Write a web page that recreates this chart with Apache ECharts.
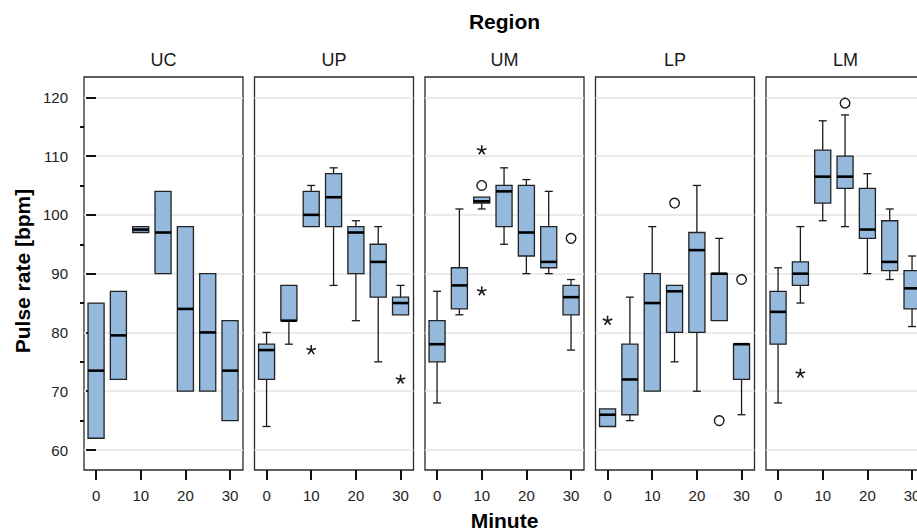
<!DOCTYPE html>
<html><head><meta charset="utf-8">
<script src="https://cdn.jsdelivr.net/npm/echarts@6/dist/echarts.min.js"></script>
<style>html,body{margin:0;padding:0;background:#fff}#c{width:917px;height:531px}</style>
</head><body><div id="c"></div>
<script>
// ---------- data ----------
const regions = ['UC', 'UP', 'UM', 'LP', 'LM'];
const minutes = [0, 5, 10, 15, 20, 25, 30];
const xTicks = [0, 10, 20, 30];
const yTicks = [60, 70, 80, 90, 100, 110, 120];
const yMinorTicks = [65, 75, 85, 95, 105, 115];

// per minute: [low whisker, Q1, median, Q3, high whisker]
const boxUC = [[62, 62, 73.5, 85, 85], [72, 72, 79.5, 87, 87], [97, 97, 97.5, 98, 98], [90, 90, 97, 104, 104], [70, 70, 84, 98, 98], [70, 70, 80, 90, 90], [65, 65, 73.5, 82, 82]];
const boxUP = [[64, 72, 77, 78, 80], [78, 82, 82, 88, 88], [98, 98, 100, 104, 105], [88, 98, 103, 107, 108], [82, 90, 97, 98, 99], [75, 86, 92, 95, 98], [83, 83, 85, 86, 88]];
const boxUM = [[68, 75, 78, 82, 87], [83, 84, 88, 91, 101], [101, 102, 102.3, 103, 103], [95, 98, 104, 105, 108], [90, 93, 97, 105, 106], [90, 91, 92, 98, 104], [77, 83, 86, 88, 89]];
const boxLP = [[64, 64, 66, 67, 67], [65, 66, 72, 78, 86], [70, 70, 85, 90, 98], [75, 80, 87, 88, 88], [70, 80, 94, 97, 105], [82, 82, 90, 90, 96], [66, 72, 78, 78, 78]];
const boxLM = [[68, 78, 83.5, 87, 91], [85, 88, 90, 92, 98], [99, 102, 106.5, 111, 116], [98, 104.5, 106.5, 110, 117], [90, 96, 97.5, 104.5, 107], [89, 90.5, 92, 99, 101], [81, 84, 87.5, 90.5, 93]];

// outliers: [minute, value]
const circlesUC = [];
const starsUC = [];
const circlesUP = [];
const starsUP = [[10, 77], [30, 72]];
const circlesUM = [[10, 105], [30, 96]];
const starsUM = [[10, 111], [10, 87]];
const circlesLP = [[15, 102], [25, 65], [30, 89]];
const starsLP = [[0, 82]];
const circlesLM = [[15, 119]];
const starsLM = [[5, 73]];

const boxes = [boxUC, boxUP, boxUM, boxLP, boxLM];
const circles = [circlesUC, circlesUP, circlesUM, circlesLP, circlesLM];
const stars = [starsUC, starsUP, starsUM, starsLP, starsLM];

// ---------- layout / style ----------
const FONT = '"Liberation Sans", Arial, sans-serif';
const PANEL_LEFT = 84, PANEL_STEP = 170.5, PANEL_W = 159, PANEL_TOP = 77, PANEL_H = 393;
const X_MIN = -2.7, X_MAX = 32.9, Y_MIN = 56.6, Y_MAX = 123.45;
const BOX_W = 3.6, CAP_W = 1.8;
const FILL = '#95b9dc', INK = '#1a1a1a';

function renderBox(params, api) {
  const m = api.value(0);
  const lo = api.value(1), q1 = api.value(2), md = api.value(3), q3 = api.value(4), hi = api.value(5);
  const halfBox = api.size([BOX_W, 0])[0] / 2;
  const halfCap = api.size([CAP_W, 0])[0] / 2;
  const pLo = api.coord([m, lo]), pQ1 = api.coord([m, q1]), pMd = api.coord([m, md]);
  const pQ3 = api.coord([m, q3]), pHi = api.coord([m, hi]);
  const cx = pMd[0];
  const ls = { stroke: INK, lineWidth: 1.3 };
  const children = [];
  if (hi > q3) {
    children.push({ type: 'line', shape: { x1: cx, y1: pQ3[1], x2: cx, y2: pHi[1] }, style: ls });
    children.push({ type: 'line', shape: { x1: cx - halfCap, y1: pHi[1], x2: cx + halfCap, y2: pHi[1] }, style: ls });
  }
  if (lo < q1) {
    children.push({ type: 'line', shape: { x1: cx, y1: pQ1[1], x2: cx, y2: pLo[1] }, style: ls });
    children.push({ type: 'line', shape: { x1: cx - halfCap, y1: pLo[1], x2: cx + halfCap, y2: pLo[1] }, style: ls });
  }
  children.push({ type: 'rect', shape: { x: cx - halfBox, y: pQ3[1], width: 2 * halfBox, height: pQ1[1] - pQ3[1] },
    style: { fill: FILL, stroke: '#222', lineWidth: 1.3 } });
  children.push({ type: 'line', shape: { x1: cx - halfBox, y1: pMd[1], x2: cx + halfBox, y2: pMd[1] },
    style: { stroke: '#000', lineWidth: 2.6 } });
  return { type: 'group', children };
}

function renderCircle(params, api) {
  const p = api.coord([api.value(0), api.value(1)]);
  return { type: 'circle', shape: { cx: p[0], cy: p[1], r: 4.8 }, style: { fill: '#fff', stroke: INK, lineWidth: 1.4 } };
}

function renderStar(params, api) {
  const p = api.coord([api.value(0), api.value(1)]);
  const r = 5;
  const children = [];
  for (let k = 0; k < 5; k++) {
    const a = -Math.PI / 2 + k * 2 * Math.PI / 5;
    children.push({ type: 'line', shape: { x1: p[0], y1: p[1], x2: p[0] + r * Math.cos(a), y2: p[1] + r * Math.sin(a) },
      style: { stroke: INK, lineWidth: 1.6 } });
  }
  return { type: 'group', children };
}

const grids = [], xAxes = [], yAxes = [], series = [], graphics = [];
regions.forEach((reg, i) => {
  const left = PANEL_LEFT + i * PANEL_STEP;
  grids.push({ left: left, top: PANEL_TOP, width: PANEL_W, height: PANEL_H, show: true,
    borderColor: '#2a2a2a', borderWidth: 1.3, backgroundColor: '#fff',
    containLabel: false, outerBoundsMode: 'none' });
  xAxes.push({ type: 'value', gridIndex: i, min: X_MIN, max: X_MAX, position: 'bottom',
    axisLine: { show: false },
    axisTick: { show: true, length: 10, customValues: xTicks, lineStyle: { color: '#111', width: 2 } },
    axisLabel: { show: true, customValues: xTicks, margin: 18, fontSize: 15, color: '#222', fontFamily: FONT },
    splitLine: { show: false } });
  yAxes.push({ type: 'value', gridIndex: i, min: Y_MIN, max: Y_MAX, position: 'left',
    axisLine: { show: false },
    axisTick: { show: i === 0, length: 10, customValues: yTicks, lineStyle: { color: '#111', width: 2 } },
    axisLabel: { show: i === 0, customValues: yTicks, margin: 16, fontSize: 15, color: '#222', fontFamily: FONT },
    splitLine: { show: true, lineStyle: { color: '#e4e4e4', width: 1.6 } } });
  series.push({ type: 'custom', xAxisIndex: i, yAxisIndex: i, renderItem: renderBox,
    data: minutes.map((m, j) => [m].concat(boxes[i][j])), encode: { x: 0, y: [1, 2, 3, 4, 5] }, z: 3 });
  series.push({ type: 'custom', xAxisIndex: i, yAxisIndex: i, renderItem: renderCircle,
    data: circles[i], encode: { x: 0, y: 1 }, z: 4 });
  series.push({ type: 'custom', xAxisIndex: i, yAxisIndex: i, renderItem: renderStar,
    data: stars[i], encode: { x: 0, y: 1 }, z: 4 });
  graphics.push({ type: 'text', x: left + PANEL_W / 2, y: 60,
    style: { text: reg, align: 'center', verticalAlign: 'middle', font: '18px ' + FONT, fill: '#1a1a1a' } });
});
// minor ticks on the first panel
yAxes.push({ type: 'value', gridIndex: 0, min: Y_MIN, max: Y_MAX, position: 'left', offset: 0,
  axisLine: { show: false },
  axisTick: { show: true, length: 4, customValues: yMinorTicks, lineStyle: { color: '#111', width: 2 } },
  axisLabel: { show: false }, splitLine: { show: false } });

graphics.push({ type: 'text', x: 504.5, y: 21,
  style: { text: 'Region', align: 'center', verticalAlign: 'middle', font: 'bold 21px ' + FONT, fill: '#000' } });
graphics.push({ type: 'text', x: 504.5, y: 531,
  style: { text: 'Minute', align: 'center', verticalAlign: 'bottom', font: 'bold 21px ' + FONT, fill: '#000' } });
graphics.push({ type: 'text', x: 22, y: 271, rotation: Math.PI / 2,
  style: { text: 'Pulse rate [bpm]', align: 'center', verticalAlign: 'middle', font: 'bold 21px ' + FONT, fill: '#000' } });

const chart = echarts.init(document.getElementById('c'), null, { renderer: 'svg' });
chart.setOption({
  animation: false,
  backgroundColor: '#fff',
  grid: grids, xAxis: xAxes, yAxis: yAxes, series: series, graphic: graphics
});
</script></body></html>
